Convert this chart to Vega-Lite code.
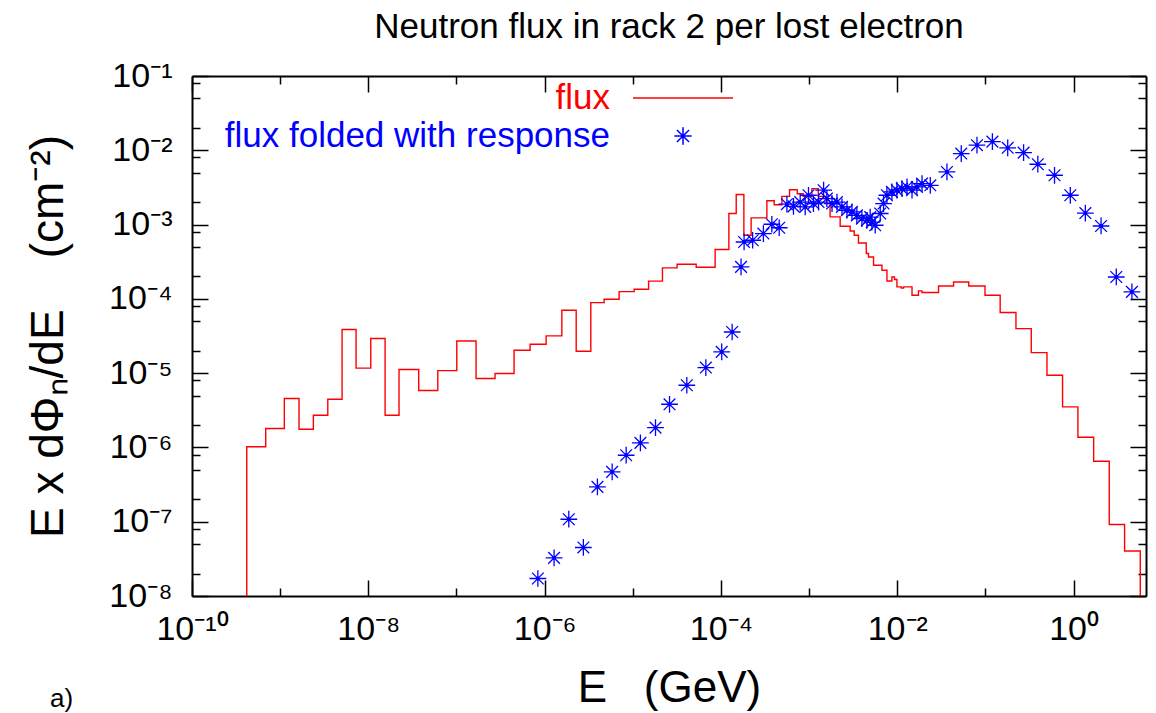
{
  "$schema": "https://vega.github.io/schema/vega-lite/v6.json",
  "width": 954,
  "height": 520,
  "autosize": {"type": "none"},
  "padding": {"left": 192, "top": 76, "right": 10, "bottom": 117},
  "background": "white",
  "config": {
    "view": {"stroke": null},
    "font": "Liberation Sans",
    "axis": {"domainColor": "black", "domainWidth": 2, "tickColor": "black", "tickWidth": 1.5, "labelFont": "Liberation Sans", "labelFontSize": 34, "labelColor": "black", "grid": false, "titleFont": "Liberation Sans", "titleFontWeight": "normal", "titleColor": "black", "labelOverlap": false, "labelFlush": false}
  },
  "title": {"text": "Neutron flux in rack 2 per lost electron", "fontSize": 35, "fontWeight": "normal", "font": "Liberation Sans", "color": "black", "offset": 14, "anchor": "middle"},
  "datasets": {
    "flux": [
      {"i": 0, "E": 4.18e-10, "v": 1e-8, "series": "flux"},
      {"i": 1, "E": 4.18e-10, "v": 1.02e-6, "series": "flux"},
      {"i": 2, "E": 6.86e-10, "v": 1.80e-6, "series": "flux"},
      {"i": 3, "E": 1.115e-9, "v": 4.55e-6, "series": "flux"},
      {"i": 4, "E": 1.637e-9, "v": 1.76e-6, "series": "flux"},
      {"i": 5, "E": 2.38e-9, "v": 2.71e-6, "series": "flux"},
      {"i": 6, "E": 3.47e-9, "v": 4.46e-6, "series": "flux"},
      {"i": 7, "E": 5.04e-9, "v": 3.86e-5, "series": "flux"},
      {"i": 8, "E": 7.26e-9, "v": 1.17e-5, "series": "flux"},
      {"i": 9, "E": 1.066e-8, "v": 2.92e-5, "series": "flux"},
      {"i": 10, "E": 1.55e-8, "v": 2.71e-6, "series": "flux"},
      {"i": 11, "E": 2.23e-8, "v": 1.12e-5, "series": "flux"},
      {"i": 12, "E": 3.73e-8, "v": 5.83e-6, "series": "flux"},
      {"i": 13, "E": 6.14e-8, "v": 1.08e-5, "series": "flux"},
      {"i": 14, "E": 1.008e-7, "v": 2.71e-5, "series": "flux"},
      {"i": 15, "E": 1.668e-7, "v": 8.46e-6, "series": "flux"},
      {"i": 16, "E": 2.74e-7, "v": 9.88e-6, "series": "flux"},
      {"i": 17, "E": 4.50e-7, "v": 2.03e-5, "series": "flux"},
      {"i": 18, "E": 6.84e-7, "v": 2.45e-5, "series": "flux"},
      {"i": 19, "E": 1.04e-6, "v": 3.17e-5, "series": "flux"},
      {"i": 20, "E": 1.567e-6, "v": 7.03e-5, "series": "flux"},
      {"i": 21, "E": 2.28e-6, "v": 1.97e-5, "series": "flux"},
      {"i": 22, "E": 3.34e-6, "v": 8.91e-5, "series": "flux"},
      {"i": 23, "E": 4.73e-6, "v": 9.88e-5, "series": "flux"},
      {"i": 24, "E": 7.00e-6, "v": 1.25e-4, "series": "flux"},
      {"i": 25, "E": 1.036e-5, "v": 1.35e-4, "series": "flux"},
      {"i": 26, "E": 1.51e-5, "v": 1.73e-4, "series": "flux"},
      {"i": 27, "E": 2.17e-5, "v": 2.61e-4, "series": "flux"},
      {"i": 28, "E": 3.18e-5, "v": 2.92e-4, "series": "flux"},
      {"i": 29, "E": 5.24e-5, "v": 2.66e-4, "series": "flux"},
      {"i": 30, "E": 8.59e-5, "v": 4.61e-4, "series": "flux"},
      {"i": 31, "E": 1.23e-4, "v": 1.41e-3, "series": "flux"},
      {"i": 32, "E": 1.49e-4, "v": 2.54e-3, "series": "flux"},
      {"i": 33, "E": 1.82e-4, "v": 7.18e-4, "series": "flux"},
      {"i": 34, "E": 2.20e-4, "v": 1.23e-3, "series": "flux"},
      {"i": 35, "E": 3.32e-4, "v": 2.09e-3, "series": "flux"},
      {"i": 36, "E": 4.02e-4, "v": 1.85e-3, "series": "flux"},
      {"i": 37, "E": 4.91e-4, "v": 2.40e-3, "series": "flux"},
      {"i": 38, "E": 6.00e-4, "v": 2.94e-3, "series": "flux"},
      {"i": 39, "E": 7.33e-4, "v": 2.60e-3, "series": "flux"},
      {"i": 40, "E": 8.57e-4, "v": 2.40e-3, "series": "flux"},
      {"i": 41, "E": 1.076e-3, "v": 3.05e-3, "series": "flux"},
      {"i": 42, "E": 1.27e-3, "v": 2.40e-3, "series": "flux"},
      {"i": 43, "E": 1.59e-3, "v": 1.94e-3, "series": "flux"},
      {"i": 44, "E": 1.73e-3, "v": 1.27e-3, "series": "flux"},
      {"i": 45, "E": 2.25e-3, "v": 9.49e-4, "series": "flux"},
      {"i": 46, "E": 2.92e-3, "v": 8.20e-4, "series": "flux"},
      {"i": 47, "E": 3.25e-3, "v": 7.18e-4, "series": "flux"},
      {"i": 48, "E": 3.63e-3, "v": 5.65e-4, "series": "flux"},
      {"i": 49, "E": 4.45e-3, "v": 4.07e-4, "series": "flux"},
      {"i": 50, "E": 4.72e-3, "v": 3.66e-4, "series": "flux"},
      {"i": 51, "E": 5.38e-3, "v": 2.83e-4, "series": "flux"},
      {"i": 52, "E": 6.70e-3, "v": 2.43e-4, "series": "flux"},
      {"i": 53, "E": 7.64e-3, "v": 1.74e-4, "series": "flux"},
      {"i": 54, "E": 8.69e-3, "v": 1.97e-4, "series": "flux"},
      {"i": 55, "E": 9.31e-3, "v": 1.82e-4, "series": "flux"},
      {"i": 56, "E": 9.91e-3, "v": 1.45e-4, "series": "flux"},
      {"i": 57, "E": 1.11e-2, "v": 1.40e-4, "series": "flux"},
      {"i": 58, "E": 1.18e-2, "v": 1.45e-4, "series": "flux"},
      {"i": 59, "E": 1.47e-2, "v": 1.12e-4, "series": "flux"},
      {"i": 60, "E": 1.74e-2, "v": 1.28e-4, "series": "flux"},
      {"i": 61, "E": 1.91e-2, "v": 1.22e-4, "series": "flux"},
      {"i": 62, "E": 2.94e-2, "v": 1.49e-4, "series": "flux"},
      {"i": 63, "E": 4.35e-2, "v": 1.69e-4, "series": "flux"},
      {"i": 64, "E": 6.47e-2, "v": 1.49e-4, "series": "flux"},
      {"i": 65, "E": 9.89e-2, "v": 1.12e-4, "series": "flux"},
      {"i": 66, "E": 1.47e-1, "v": 6.55e-5, "series": "flux"},
      {"i": 67, "E": 2.22e-1, "v": 3.98e-5, "series": "flux"},
      {"i": 68, "E": 3.31e-1, "v": 1.89e-5, "series": "flux"},
      {"i": 69, "E": 4.99e-1, "v": 9.37e-6, "series": "flux"},
      {"i": 70, "E": 7.50e-1, "v": 3.51e-6, "series": "flux"},
      {"i": 71, "E": 1.12, "v": 1.37e-6, "series": "flux"},
      {"i": 72, "E": 1.69, "v": 6.52e-7, "series": "flux"},
      {"i": 73, "E": 2.54, "v": 9.17e-8, "series": "flux"},
      {"i": 74, "E": 3.79, "v": 4.04e-8, "series": "flux"},
      {"i": 75, "E": 5.71, "v": 1e-8, "series": "flux"}
    ],
    "folded": [
      {"E": 8.38e-7, "v": 1.72e-8, "series": "flux folded with response"},
      {"E": 1.28e-6, "v": 3.26e-8, "series": "flux folded with response"},
      {"E": 1.88e-6, "v": 1.08e-7, "series": "flux folded with response"},
      {"E": 2.75e-6, "v": 4.5e-8, "series": "flux folded with response"},
      {"E": 3.97e-6, "v": 2.94e-7, "series": "flux folded with response"},
      {"E": 5.83e-6, "v": 4.68e-7, "series": "flux folded with response"},
      {"E": 8.41e-6, "v": 7.85e-7, "series": "flux folded with response"},
      {"E": 1.22e-5, "v": 1.15e-6, "series": "flux folded with response"},
      {"E": 1.81e-5, "v": 1.85e-6, "series": "flux folded with response"},
      {"E": 2.61e-5, "v": 3.81e-6, "series": "flux folded with response"},
      {"E": 4.10e-5, "v": 6.87e-6, "series": "flux folded with response"},
      {"E": 6.74e-5, "v": 1.19e-5, "series": "flux folded with response"},
      {"E": 1.02e-4, "v": 1.93e-5, "series": "flux folded with response"},
      {"E": 1.34e-4, "v": 3.58e-5, "series": "flux folded with response"},
      {"E": 1.69e-4, "v": 2.69e-4, "series": "flux folded with response"},
      {"E": 1.83e-4, "v": 5.83e-4, "series": "flux folded with response"},
      {"E": 2.29e-4, "v": 6.15e-4, "series": "flux folded with response"},
      {"E": 3.03e-4, "v": 7.57e-4, "series": "flux folded with response"},
      {"E": 3.78e-4, "v": 1.01e-3, "series": "flux folded with response"},
      {"E": 4.58e-4, "v": 9.06e-4, "series": "flux folded with response"},
      {"E": 5.60e-4, "v": 1.88e-3, "series": "flux folded with response"},
      {"E": 6.65e-4, "v": 1.76e-3, "series": "flux folded with response"},
      {"E": 7.92e-4, "v": 2.01e-3, "series": "flux folded with response"},
      {"E": 9.03e-4, "v": 1.73e-3, "series": "flux folded with response"},
      {"E": 9.84e-4, "v": 2.48e-3, "series": "flux folded with response"},
      {"E": 1.12e-3, "v": 1.92e-3, "series": "flux folded with response"},
      {"E": 1.28e-3, "v": 2.01e-3, "series": "flux folded with response"},
      {"E": 1.46e-3, "v": 2.90e-3, "series": "flux folded with response"},
      {"E": 1.59e-3, "v": 2.24e-3, "series": "flux folded with response"},
      {"E": 1.82e-3, "v": 1.92e-3, "series": "flux folded with response"},
      {"E": 2.07e-3, "v": 2.01e-3, "series": "flux folded with response"},
      {"E": 2.36e-3, "v": 1.73e-3, "series": "flux folded with response"},
      {"E": 2.69e-3, "v": 1.56e-3, "series": "flux folded with response"},
      {"E": 3.06e-3, "v": 1.48e-3, "series": "flux folded with response"},
      {"E": 3.48e-3, "v": 1.33e-3, "series": "flux folded with response"},
      {"E": 3.97e-3, "v": 1.20e-3, "series": "flux folded with response"},
      {"E": 4.53e-3, "v": 1.14e-3, "series": "flux folded with response"},
      {"E": 4.93e-3, "v": 1.26e-3, "series": "flux folded with response"},
      {"E": 5.15e-3, "v": 1.08e-3, "series": "flux folded with response"},
      {"E": 5.62e-3, "v": 9.79e-4, "series": "flux folded with response"},
      {"E": 6.41e-3, "v": 1.41e-3, "series": "flux folded with response"},
      {"E": 6.99e-3, "v": 1.92e-3, "series": "flux folded with response"},
      {"E": 7.63e-3, "v": 2.48e-3, "series": "flux folded with response"},
      {"E": 8.70e-3, "v": 2.75e-3, "series": "flux folded with response"},
      {"E": 9.91e-3, "v": 2.90e-3, "series": "flux folded with response"},
      {"E": 1.13e-2, "v": 3.05e-3, "series": "flux folded with response"},
      {"E": 1.29e-2, "v": 3.21e-3, "series": "flux folded with response"},
      {"E": 1.47e-2, "v": 2.90e-3, "series": "flux folded with response"},
      {"E": 1.67e-2, "v": 3.21e-3, "series": "flux folded with response"},
      {"E": 1.91e-2, "v": 3.56e-3, "series": "flux folded with response"},
      {"E": 2.37e-2, "v": 3.38e-3, "series": "flux folded with response"},
      {"E": 3.66e-2, "v": 5.11e-3, "series": "flux folded with response"},
      {"E": 5.32e-2, "v": 9.04e-3, "series": "flux folded with response"},
      {"E": 8.02e-2, "v": 1.17e-2, "series": "flux folded with response"},
      {"E": 1.20e-1, "v": 1.31e-2, "series": "flux folded with response"},
      {"E": 1.79e-1, "v": 1.08e-2, "series": "flux folded with response"},
      {"E": 2.71e-1, "v": 9.31e-3, "series": "flux folded with response"},
      {"E": 3.93e-1, "v": 6.49e-3, "series": "flux folded with response"},
      {"E": 6.08e-1, "v": 4.61e-3, "series": "flux folded with response"},
      {"E": 9.18e-1, "v": 2.48e-3, "series": "flux folded with response"},
      {"E": 1.36, "v": 1.43e-3, "series": "flux folded with response"},
      {"E": 2.05, "v": 9.57e-4, "series": "flux folded with response"},
      {"E": 3.05, "v": 1.97e-4, "series": "flux folded with response"},
      {"E": 4.59, "v": 1.24e-4, "series": "flux folded with response"}
    ],
    "caption": [
      {"label": "a)"}
    ]
  },
  "layer": [
    {
      "data": {"name": "flux"},
      "mark": {"type": "line", "interpolate": "step-after", "strokeWidth": 1.4},
      "encoding": {
        "x": {"field": "E", "type": "quantitative", "scale": {"type": "log", "domain": [1e-10, 6.63], "nice": false},
          "axis": {"orient": "bottom", "values": [1e-10, 1e-9, 1e-8, 1e-7, 1e-6, 1e-5, 1e-4, 1e-3, 1e-2, 1e-1, 1],
            "labelExpr": "abs(round(log(datum.value)/LN10)) % 2 == 1 ? '' : '10' + replace(replace(replace(replace(replace(replace(replace(replace(replace(replace(replace('' + round(log(datum.value)/LN10), '-', '⁻'), '0', '⁰'), '1', '¹'), '2', '²'), '3', '³'), '4', '⁴'), '5', '⁵'), '6', '⁶'), '7', '⁷'), '8', '⁸'), '9', '⁹')",
            "tickSize": {"condition": {"test": "abs(round(log(datum.value)/LN10)) % 2 == 1", "value": -8}, "value": -16},
            "labelPadding": 32, "labelBaseline": "top",
            "title": "E\u00a0\u00a0\u00a0(GeV)", "titleFontSize": 44, "titlePadding": 12}},
        "y": {"field": "v", "type": "quantitative", "scale": {"type": "log", "domain": [1e-8, 1e-1], "nice": false},
          "axis": {"orient": "left", "values": [1e-8, 2e-8, 5e-8, 8e-8, 1e-7, 2e-7, 5e-7, 8e-7, 1e-6, 2e-6, 5e-6, 8e-6, 1e-5, 2e-5, 5e-5, 8e-5, 1e-4, 2e-4, 5e-4, 8e-4, 1e-3, 2e-3, 5e-3, 8e-3, 1e-2, 2e-2, 5e-2, 8e-2, 1e-1],
            "labelExpr": "abs(log(datum.value)/LN10 - round(log(datum.value)/LN10)) > 0.01 ? '' : '10' + replace(replace(replace(replace(replace(replace(replace(replace(replace(replace(replace('' + round(log(datum.value)/LN10), '-', '⁻'), '0', '⁰'), '1', '¹'), '2', '²'), '3', '³'), '4', '⁴'), '5', '⁵'), '6', '⁶'), '7', '⁷'), '8', '⁸'), '9', '⁹')",
            "tickSize": {"condition": {"test": "abs(log(datum.value)/LN10 - round(log(datum.value)/LN10)) > 0.01", "value": -8}, "value": -16},
            "labelPadding": 36, "labelBaseline": "middle",
            "title": "E x dΦₙ/dE\u00a0\u00a0\u00a0\u00a0(cm⁻²)", "titleFontSize": 46, "titlePadding": 36}},
        "color": {"field": "series", "type": "nominal",
          "scale": {"domain": ["flux", "flux folded with response"], "range": ["#ff0000", "#0000ff"]},
          "legend": {"orient": "none", "legendX": 473.5, "legendY": 4.5, "title": null, "padding": 0, "direction": "vertical",
            "symbolType": "stroke", "symbolStrokeWidth": 1.5, "rowPadding": 2,
            "labelAlign": "right", "labelOffset": -90.5, "labelFont": "Liberation Sans", "labelFontSize": 35, "labelLimit": 0, "labelBaseline": "middle",
            "encode": {
              "symbols": {"update": {
                "shape": {"signal": "datum.value === 'flux' ? 'stroke' : 'M-1,0L1,0M0,-1L0,1M-0.7,-0.7L0.7,0.7M-0.7,0.7L0.7,-0.7'"},
                "size": {"signal": "datum.value === 'flux' ? 10000 : 300"},
                "stroke": {"signal": "datum.value === 'flux' ? '#ff0000' : '#0000ff'"},
                "fill": {"value": "transparent"},
                "strokeWidth": {"value": 1.5},
                "opacity": {"value": 1}
              }},
              "labels": {"update": {"fill": {"signal": "datum.value === 'flux' ? '#ff0000' : '#0000ff'"}}}
            }}},
        "order": {"field": "i", "type": "quantitative"}
      }
    },
    {
      "data": {"name": "folded"},
      "mark": {"type": "point", "shape": "M-1,0L1,0M0,-1L0,1M-0.7,-0.7L0.7,0.7M-0.7,0.7L0.7,-0.7M-0.15,-0.15L0.15,-0.15L0.15,0.15L-0.15,0.15Z", "size": 280, "filled": true, "stroke": "#0000ff", "strokeWidth": 1.3, "opacity": 1},
      "encoding": {
        "x": {"field": "E", "type": "quantitative", "scale": {"type": "log", "domain": [1e-10, 6.63], "nice": false},
          "axis": {"orient": "top", "values": [1e-10, 1e-9, 1e-8, 1e-7, 1e-6, 1e-5, 1e-4, 1e-3, 1e-2, 1e-1, 1], "labels": false, "title": null,
            "tickSize": {"condition": {"test": "abs(round(log(datum.value)/LN10)) % 2 == 1", "value": -8}, "value": -16}}},
        "y": {"field": "v", "type": "quantitative", "scale": {"type": "log", "domain": [1e-8, 1e-1], "nice": false},
          "axis": {"orient": "right", "values": [1e-8, 2e-8, 5e-8, 8e-8, 1e-7, 2e-7, 5e-7, 8e-7, 1e-6, 2e-6, 5e-6, 8e-6, 1e-5, 2e-5, 5e-5, 8e-5, 1e-4, 2e-4, 5e-4, 8e-4, 1e-3, 2e-3, 5e-3, 8e-3, 1e-2, 2e-2, 5e-2, 8e-2, 1e-1], "labels": false, "title": null,
            "tickSize": {"condition": {"test": "abs(log(datum.value)/LN10 - round(log(datum.value)/LN10)) > 0.01", "value": -8}, "value": -16}}},
        "color": {"field": "series", "type": "nominal"}
      }
    },
    {
      "data": {"name": "caption"},
      "mark": {"type": "text", "fontSize": 26, "font": "Liberation Sans", "align": "left", "baseline": "bottom", "color": "black"},
      "encoding": {
        "text": {"field": "label", "type": "nominal"},
        "x": {"datum": 2.45e-12, "type": "quantitative", "scale": {"type": "log", "domain": [1e-10, 6.63], "nice": false}, "axis": null},
        "y": {"datum": 2.75e-10, "type": "quantitative", "scale": {"type": "log", "domain": [1e-8, 1e-1], "nice": false}, "axis": null}
      }
    }
  ],
  "resolve": {"axis": {"x": "independent", "y": "independent"}}
}
